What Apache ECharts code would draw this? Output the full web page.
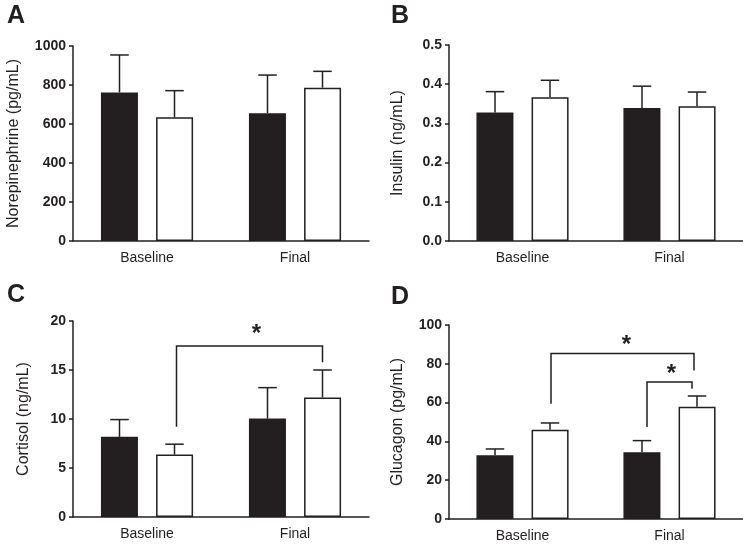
<!DOCTYPE html>
<html>
<head>
<meta charset="utf-8">
<script src="https://cdn.jsdelivr.net/npm/echarts@6/dist/echarts.min.js"></script>
<style>html,body{margin:0;padding:0;background:#fff}#c{width:743px;height:545px}</style>
</head>
<body>
<div id="c"></div>
<script>
// ---- data ----
const categories = ['Baseline', 'Final'];
const panelLetters = ['A', 'B', 'C', 'D'];
const yNames = ['Norepinephrine (pg/mL)', 'Insulin (ng/mL)', 'Cortisol (ng/mL)', 'Glucagon (pg/mL)'];
const yMax = [1000, 0.5, 20, 100];
const yInterval = [200, 0.1, 5, 20];

const norepiBlack = [762, 655];
const norepiBlackErr = [192, 196];
const norepiWhite = [634, 786];
const norepiWhiteErr = [137, 84];

const insulinBlack = [0.328, 0.339];
const insulinBlackErr = [0.053, 0.056];
const insulinWhite = [0.367, 0.344];
const insulinWhiteErr = [0.043, 0.036];

const cortisolBlack = [8.18, 10.05];
const cortisolBlackErr = [1.76, 3.15];
const cortisolWhite = [6.37, 12.2];
const cortisolWhiteErr = [1.06, 2.8];

const glucagonBlack = [32.9, 34.4];
const glucagonBlackErr = [3.2, 6.0];
const glucagonWhite = [46.0, 57.9];
const glucagonWhiteErr = [3.5, 5.5];

// brackets: [catFrom, seriesFrom, yFrom, catTo, seriesTo, yTo, yTop]
const cortisolBrackets = [[0, 1, 9.2, 1, 1, 15.8, 17.45]];
const glucagonBrackets = [[0, 1, 59.4, 1, 1, 76.6, 85.3], [1, 0, 47.4, 1, 1, 67.1, 70.6]];
const starMark = '*';

// ---- styling / layout ----
const ink = '#231f20';
const font = '"Liberation Sans", Arial, Helvetica, sans-serif';
const barW = 37;
const seriesOffset = [-27.5, 27.5];
// per bracket: [leftInset, rightInset, starDx, starDrop]
const bracketStyle = [[2, 0, 7, 0], [1, -3, 4, 4], [5, -5, 2, 4]];
const grids = [
  {left: 73, top: 46, width: 296, height: 195},
  {left: 449, top: 45, width: 294, height: 196},
  {left: 73, top: 321, width: 296, height: 196},
  {left: 449, top: 325, width: 294, height: 194}
];
const nameGaps = [51, 43, 41, 43];
const titlePos = [[7, 4], [391, 4], [7, 283], [391, 285]];

const panels = [
  {black: norepiBlack, blackErr: norepiBlackErr, white: norepiWhite, whiteErr: norepiWhiteErr, brackets: []},
  {black: insulinBlack, blackErr: insulinBlackErr, white: insulinWhite, whiteErr: insulinWhiteErr, brackets: []},
  {black: cortisolBlack, blackErr: cortisolBlackErr, white: cortisolWhite, whiteErr: cortisolWhiteErr, brackets: cortisolBrackets},
  {black: glucagonBlack, blackErr: glucagonBlackErr, white: glucagonWhite, whiteErr: glucagonWhiteErr, brackets: glucagonBrackets}
];

function fmt(v, i) {
  if (i === 1) return v.toFixed(1);
  return String(Math.round(v));
}

const option = {
  animation: false,
  backgroundColor: '#fff',
  title: panelLetters.map((t, i) => ({
    text: t, left: titlePos[i][0], top: titlePos[i][1], padding: 0,
    textStyle: {fontFamily: font, fontWeight: 'bold', fontSize: 25, color: ink}
  })),
  grid: grids,
  xAxis: grids.map((g, i) => ({
    type: 'category', gridIndex: i, data: categories,
    axisLine: {lineStyle: {color: ink, width: 1.5}},
    axisTick: {alignWithLabel: true, length: 5, lineStyle: {color: ink, width: 1.5}},
    axisLabel: {fontFamily: font, fontSize: 14, color: ink, margin: 10}
  })),
  yAxis: grids.map((g, i) => ({
    type: 'value', gridIndex: i, min: 0, max: yMax[i], interval: yInterval[i],
    name: yNames[i], nameLocation: 'middle', nameGap: nameGaps[i],
    nameTextStyle: {fontFamily: font, fontSize: 16, color: ink},
    axisLine: {show: true, lineStyle: {color: ink, width: 1.5}},
    axisTick: {show: true, length: 4, lineStyle: {color: ink, width: 1.5}},
    splitLine: {show: false},
    axisLabel: {fontFamily: font, fontSize: 14, fontWeight: 'bold', color: ink, margin: 7,
      formatter: v => fmt(v, i)}
  })),
  series: []
};

function errRender(offset) {
  return function (params, api) {
    const cat = api.value(0);
    const top = api.coord([cat, api.value(2)]);
    const base = api.coord([cat, api.value(1)]);
    const x = top[0] + offset;
    const cap = barW / 4;
    return {
      type: 'group',
      children: [
        {type: 'line', shape: {x1: x, y1: base[1], x2: x, y2: top[1]}, style: {stroke: ink, lineWidth: 1.5}},
        {type: 'line', shape: {x1: x - cap, y1: top[1], x2: x + cap, y2: top[1]}, style: {stroke: ink, lineWidth: 1.5}}
      ]
    };
  };
}

panels.forEach((p, i) => {
  option.series.push({
    type: 'bar', xAxisIndex: i, yAxisIndex: i, data: p.black, barWidth: barW, barGap: '49%',
    itemStyle: {color: ink, borderColor: ink, borderWidth: 1.5}, z: 2
  });
  option.series.push({
    type: 'bar', xAxisIndex: i, yAxisIndex: i, data: p.white, barWidth: barW,
    itemStyle: {color: '#fff', borderColor: ink, borderWidth: 1.5}, z: 2
  });
  option.series.push({
    type: 'custom', xAxisIndex: i, yAxisIndex: i, z: 1,
    data: p.black.map((v, k) => [k, v, v + p.blackErr[k]]),
    encode: {x: 0, y: [1, 2]},
    renderItem: errRender(seriesOffset[0])
  });
  option.series.push({
    type: 'custom', xAxisIndex: i, yAxisIndex: i, z: 1,
    data: p.white.map((v, k) => [k, v, v + p.whiteErr[k]]),
    encode: {x: 0, y: [1, 2]},
    renderItem: errRender(seriesOffset[1])
  });
  if (p.brackets.length) {
    const styleBase = i === 2 ? 0 : 1;
    option.series.push({
      type: 'custom', xAxisIndex: i, yAxisIndex: i, z: 3,
      data: p.brackets,
      encode: {x: [0, 3], y: [2, 5, 6]},
      renderItem: function (params, api) {
        const st = bracketStyle[styleBase + params.dataIndex] || [0, 0, 0, 0];
        const a = api.coord([api.value(0), api.value(2)]);
        const b = api.coord([api.value(3), api.value(5)]);
        const t = api.coord([api.value(3), api.value(6)]);
        const xa = a[0] + seriesOffset[api.value(1)] + st[0];
        const xb = b[0] + seriesOffset[api.value(4)] + st[1];
        return {
          type: 'group',
          children: [
            {type: 'polyline', shape: {points: [[xa, a[1]], [xa, t[1]], [xb, t[1]], [xb, b[1]]]},
              style: {stroke: ink, lineWidth: 1.5, fill: null}},
            {type: 'text', style: {text: starMark, x: (xa + xb) / 2 + st[2], y: t[1] + st[3],
              textAlign: 'center', textVerticalAlign: 'bottom',
              font: 'bold 24px ' + font, fill: ink}}
          ]
        };
      }
    });
  }
});

const chart = echarts.init(document.getElementById('c'), null, {renderer: 'canvas'});
chart.setOption(option);
</script>
</body>
</html>
